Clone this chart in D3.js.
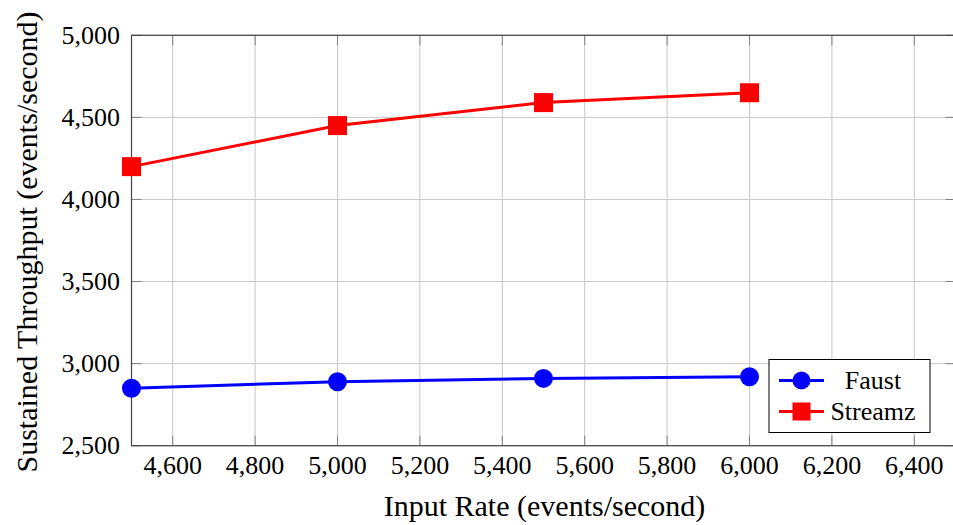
<!DOCTYPE html>
<html>
<head>
<meta charset="utf-8">
<script src="https://cdn.jsdelivr.net/npm/d3@7"></script>
</head>
<body style="margin:0">
<script>
const inputRates = [4500, 5000, 5500, 6000];
const faust = [2850, 2890, 2910, 2920];
const streamz = [4200, 4450, 4590, 4650];
const xTicks = [4600, 4800, 5000, 5200, 5400, 5600, 5800, 6000, 6200, 6400];
const yTicks = [2500, 3000, 3500, 4000, 4500, 5000];

const width = 953, height = 525;
const margin = { top: 35.3, right: -2.5, bottom: 79.3, left: 131.5 };
const innerW = width - margin.left - margin.right;
const innerH = height - margin.top - margin.bottom;
const serif = 'Liberation Serif';

const svg = d3.select('body').append('svg')
  .attr('width', width).attr('height', height);
const g = svg.append('g').attr('transform', `translate(${margin.left},${margin.top})`);

const x = d3.scaleLinear().domain([4500, 6500]).range([0, innerW]);
const y = d3.scaleLinear().domain([2500, 5000]).range([innerH, 0]);
const fmt = d3.format(',');

function label(sel) {
  return sel.append('text').attr('font-family', serif).style('font-family', serif);
}

// grid
g.append('g').selectAll('line').data(xTicks).join('line')
  .attr('x1', d => x(d)).attr('x2', d => x(d)).attr('y1', 0).attr('y2', innerH)
  .attr('stroke', '#c8c8c8').attr('stroke-width', 1);
g.append('g').selectAll('line').data(yTicks).join('line')
  .attr('x1', 0).attr('x2', innerW).attr('y1', d => y(d)).attr('y2', d => y(d))
  .attr('stroke', '#c8c8c8').attr('stroke-width', 1);

// inward ticks on all sides
const tickLen = 10;
const tickG = g.append('g').attr('stroke', '#808080').attr('stroke-width', 1);
xTicks.forEach(t => {
  tickG.append('line').attr('x1', x(t)).attr('x2', x(t)).attr('y1', innerH).attr('y2', innerH - tickLen);
  tickG.append('line').attr('x1', x(t)).attr('x2', x(t)).attr('y1', 0).attr('y2', tickLen);
});
yTicks.forEach(t => {
  tickG.append('line').attr('x1', 0).attr('x2', tickLen).attr('y1', y(t)).attr('y2', y(t));
  tickG.append('line').attr('x1', innerW).attr('x2', innerW - tickLen).attr('y1', y(t)).attr('y2', y(t));
});

// frame
g.append('rect').attr('width', innerW).attr('height', innerH)
  .attr('fill', 'none').attr('stroke', '#444').attr('stroke-width', 1.2);

// tick labels
xTicks.forEach(t => {
  label(g).attr('x', x(t)).attr('y', innerH + 28.6)
    .attr('text-anchor', 'middle').attr('font-size', 26).text(fmt(t));
});
yTicks.forEach(t => {
  label(g).attr('x', -11.5).attr('y', y(t) + 8.6)
    .attr('text-anchor', 'end').attr('font-size', 26).text(fmt(t));
});

// axis titles
label(svg).attr('x', 544.5).attr('y', 516)
  .attr('text-anchor', 'middle').attr('font-size', 30).text('Input Rate (events/second)');
label(svg).attr('transform', 'translate(37,242) rotate(-90)')
  .attr('text-anchor', 'middle').attr('font-size', 30).text('Sustained Throughput (events/second)');

const line = d3.line().x(d => x(d[0])).y(d => y(d[1]));
const series = [
  { name: 'Faust', values: faust, color: '#0000ff', shape: 'circle' },
  { name: 'Streamz', values: streamz, color: '#ff0000', shape: 'square' }
];

function marker(sel, shape, color, cx, cy, size) {
  if (shape === 'circle') {
    sel.append('circle').attr('cx', cx).attr('cy', cy).attr('r', size / 2).attr('fill', color);
  } else {
    sel.append('rect').attr('x', cx - size / 2).attr('y', cy - size / 2)
      .attr('width', size).attr('height', size).attr('fill', color);
  }
}

series.forEach(s => {
  const pts = inputRates.map((r, i) => [r, s.values[i]]);
  g.append('path').datum(pts).attr('d', line)
    .attr('fill', 'none').attr('stroke', s.color).attr('stroke-width', 3);
  pts.forEach(p => marker(g, s.shape, s.color, x(p[0]), y(p[1]), 19));
});

// legend
const lg = svg.append('g').attr('transform', 'translate(769,359.5)');
lg.append('rect').attr('width', 161).attr('height', 73)
  .attr('fill', '#fff').attr('stroke', '#000').attr('stroke-width', 1);
series.forEach((s, i) => {
  const cy = 21 + i * 31;
  lg.append('line').attr('x1', 10).attr('x2', 55).attr('y1', cy).attr('y2', cy)
    .attr('stroke', s.color).attr('stroke-width', 3);
  marker(lg, s.shape, s.color, 32.5, cy, 18);
  label(lg).attr('x', 104).attr('y', cy + 8.6)
    .attr('text-anchor', 'middle').attr('font-size', 26).text(s.name);
});
</script>
</body>
</html>
